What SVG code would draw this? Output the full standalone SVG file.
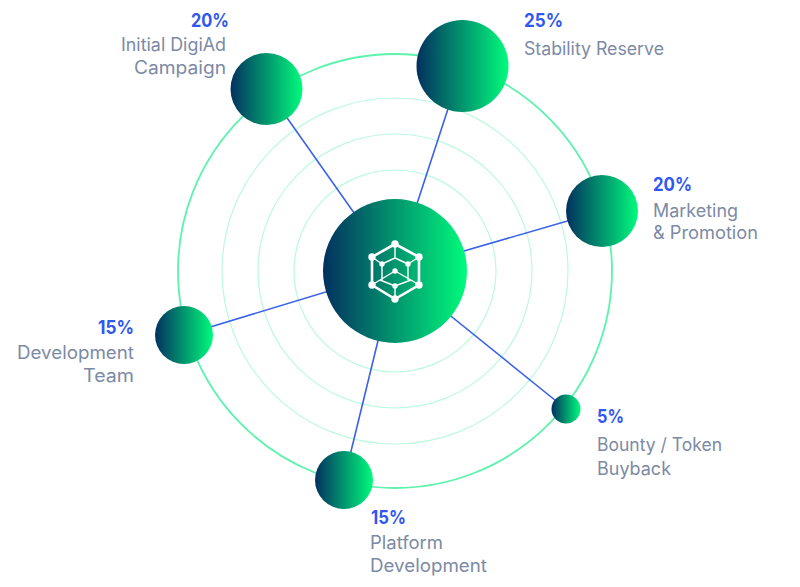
<svg xmlns="http://www.w3.org/2000/svg" width="800" height="587" viewBox="0 0 800 587">
<style>
.pct{font:700 19px "Inter","Liberation Sans",sans-serif;fill:#2f58f0}
.lbl{font:400 18px "Inter","Liberation Sans",sans-serif;fill:#7c8aa5}
.ring{fill:none;stroke:#bcf9e0;stroke-width:1.2}
.link{stroke:#3a62e6;stroke-width:1.6;fill:none}
.ic{stroke:#fff;fill:none}
.d{fill:#fff}
</style>
<defs>
<linearGradient id="g"><stop offset="0" stop-color="#03305f"/><stop offset="1" stop-color="#00fb7c"/></linearGradient>
</defs>
<rect width="800" height="587" fill="#fff"/>
<g id="rings">
<circle class="ring" cx="395" cy="271" r="101"/>
<circle class="ring" cx="395" cy="271" r="137"/>
<circle class="ring" cx="395" cy="271" r="173"/>
<circle cx="395" cy="271" r="217" fill="none" stroke="#5cf3ac" stroke-width="1.8"/>
</g>
<g id="connectors">
<line class="link" x1="395" y1="271" x2="266" y2="88"/>
<line class="link" x1="395" y1="271" x2="462" y2="66"/>
<line class="link" x1="395" y1="271" x2="602" y2="211"/>
<line class="link" x1="395" y1="271" x2="566" y2="409"/>
<line class="link" x1="395" y1="271" x2="344" y2="480"/>
<line class="link" x1="395" y1="271" x2="184" y2="335"/>
</g>
<g id="center">
<circle cx="395" cy="271" r="72" fill="url(#g)"/>
<g class="ic">
<path stroke-width="2.6" d="M395 244L419 257V285L395 299L372 285V257Z"/>
<path stroke-width="1.4" d="M395 244V258L382 264M395 258L408 264M372 257L382 264M419 257L408 264M395 271L380 280M395 271L411 280M380 280L395 286L411 280M395 286V299M372 285L380 280M419 285L411 280M382 264V280M408 264V280"/>
</g>
<g class="d">
<circle cx="395" cy="244" r="3.700"/><circle cx="419" cy="257" r="3.700"/><circle cx="419" cy="285" r="3.700"/><circle cx="395" cy="299" r="3.700"/><circle cx="372" cy="285" r="3.700"/><circle cx="372" cy="257" r="3.700"/>
<circle cx="382" cy="264" r="2.700"/><circle cx="408" cy="264" r="2.700"/><circle cx="395" cy="271" r="2.700"/><circle cx="395" cy="286" r="2.700"/>
</g>
</g>
<g id="node-initial">
<circle cx="266.500" cy="89" r="36" fill="url(#g)"/>
<text class="pct" x="229" y="27" text-anchor="end" textLength="38" lengthAdjust="spacingAndGlyphs">20%</text>
<text class="lbl" x="226" y="51" text-anchor="end" textLength="105" lengthAdjust="spacingAndGlyphs">Initial DigiAd</text>
<text class="lbl" x="226" y="74" text-anchor="end" textLength="92" lengthAdjust="spacingAndGlyphs">Campaign</text>
</g>
<g id="node-stability">
<circle cx="462.500" cy="66" r="46" fill="url(#g)"/>
<text class="pct" x="524" y="27" textLength="39" lengthAdjust="spacingAndGlyphs">25%</text>
<text class="lbl" x="524" y="55" textLength="140" lengthAdjust="spacingAndGlyphs">Stability Reserve</text>
</g>
<g id="node-marketing">
<circle cx="602" cy="211" r="36" fill="url(#g)"/>
<text class="pct" x="653" y="191" textLength="39" lengthAdjust="spacingAndGlyphs">20%</text>
<text class="lbl" x="653" y="217" textLength="85" lengthAdjust="spacingAndGlyphs">Marketing</text>
<text class="lbl" x="653" y="239" textLength="105" lengthAdjust="spacingAndGlyphs">&amp; Promotion</text>
</g>
<g id="node-bounty">
<circle cx="566" cy="409" r="14.500" fill="url(#g)"/>
<text class="pct" x="597" y="423" textLength="27" lengthAdjust="spacingAndGlyphs">5%</text>
<text class="lbl" x="597" y="451" textLength="125" lengthAdjust="spacingAndGlyphs">Bounty / Token</text>
<text class="lbl" x="597" y="475" textLength="74" lengthAdjust="spacingAndGlyphs">Buyback</text>
</g>
<g id="node-platform">
<circle cx="344" cy="480" r="29" fill="url(#g)"/>
<text class="pct" x="371" y="524" textLength="35" lengthAdjust="spacingAndGlyphs">15%</text>
<text class="lbl" x="370" y="549" textLength="73" lengthAdjust="spacingAndGlyphs">Platform</text>
<text class="lbl" x="370" y="572" textLength="117" lengthAdjust="spacingAndGlyphs">Development</text>
</g>
<g id="node-team">
<circle cx="184" cy="335" r="29" fill="url(#g)"/>
<text class="pct" x="134" y="334" text-anchor="end" textLength="36" lengthAdjust="spacingAndGlyphs">15%</text>
<text class="lbl" x="134" y="359" text-anchor="end" textLength="117" lengthAdjust="spacingAndGlyphs">Development</text>
<text class="lbl" x="134" y="382" text-anchor="end" textLength="51" lengthAdjust="spacingAndGlyphs">Team</text>
</g>
</svg>
